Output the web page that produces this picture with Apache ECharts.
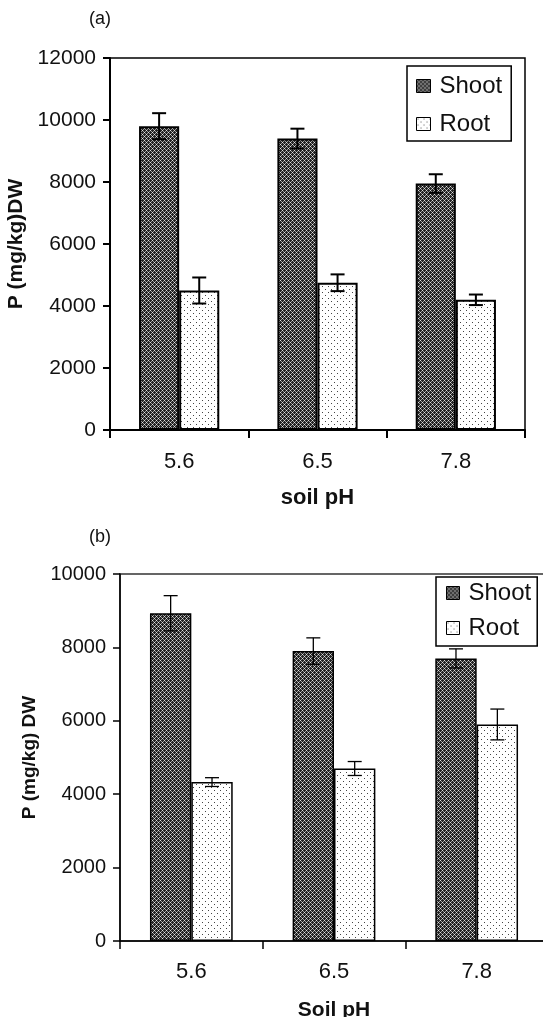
<!DOCTYPE html>
<html>
<head>
<meta charset="utf-8">
<script src="https://cdn.jsdelivr.net/npm/echarts@6/dist/echarts.min.js"></script>
<style>
html,body{margin:0;padding:0;background:#fff;}
#chart{width:543px;height:1017px;}
</style>
</head>
<body>
<div id="chart"></div>
<script>
// ---- data ----
var categories = ['5.6', '6.5', '7.8'];
var seriesNames = ['Shoot', 'Root'];
// panel (a)
var shootA = [9800, 9400, 7950];
var shootAErr = [420, 320, 300];
var rootA = [4500, 4750, 4200];
var rootAErr = [420, 270, 170];
// panel (b)
var shootB = [8930, 7900, 7700];
var shootBErr = [480, 360, 260];
var rootB = [4330, 4700, 5900];
var rootBErr = [120, 190, 420];
// axes
var yMaxA = 12000, yMaxB = 10000, yStep = 2000;

var FONT = 'Liberation Sans, Arial, sans-serif';

function makeShootPattern() {
  var c = document.createElement('canvas');
  c.width = 4; c.height = 4;
  var ctx = c.getContext('2d');
  ctx.fillStyle = '#222';
  ctx.fillRect(0, 0, 4, 4);
  for (var x = 0; x < 4; x++) {
    for (var y = 0; y < 4; y++) {
      var a = (x + y) % 4 === 0, b = ((x - y) + 4) % 4 === 0;
      if (a && b) { ctx.fillStyle = '#e0e0e0'; ctx.fillRect(x, y, 1, 1); }
      else if (a || b) { ctx.fillStyle = '#999'; ctx.fillRect(x, y, 1, 1); }
    }
  }
  return c;
}
function makeRootPattern() {
  var c = document.createElement('canvas');
  c.width = 6; c.height = 6;
  var ctx = c.getContext('2d');
  ctx.fillStyle = '#ffffff';
  ctx.fillRect(0, 0, 6, 6);
  ctx.fillStyle = '#444';
  ctx.fillRect(1, 1, 1, 1);
  ctx.fillRect(4, 4, 1, 1);
  return c;
}
var shootFill = {image: makeShootPattern(), repeat: 'repeat'};
var rootFill = {image: makeRootPattern(), repeat: 'repeat'};

var GAP = 0.42; // barCategoryGap fraction

function errData(vals, errs) {
  return vals.map(function (v, i) { return [i, v, errs[i]]; });
}
function errRender(side, lw, capHalf) {
  return function (params, api) {
    var i = api.value(0), v = api.value(1), e = api.value(2);
    var band = api.size([1, 0])[0];
    var bw = band * (1 - GAP) / 2;
    var c = api.coord([i, v]);
    var x = c[0] + side * bw / 2;
    var yT = api.coord([i, v + e])[1];
    var yB = api.coord([i, v - e])[1];
    var st = {stroke: '#000', lineWidth: lw};
    return {
      type: 'group',
      children: [
        {type: 'line', shape: {x1: x, y1: yT, x2: x, y2: yB}, style: st},
        {type: 'line', shape: {x1: x - capHalf, y1: yT, x2: x + capHalf, y2: yT}, style: st},
        {type: 'line', shape: {x1: x - capHalf, y1: yB, x2: x + capHalf, y2: yB}, style: st}
      ]
    };
  };
}

var chart = echarts.init(document.getElementById('chart'), null, {renderer: 'canvas'});

function yAxisCfg(gi, max, name, nameGap, nameSize, lw, labelSize) {
  return {
    gridIndex: gi, type: 'value', min: 0, max: max, interval: yStep,
    name: name, nameLocation: 'middle', nameRotate: 90, nameGap: nameGap,
    nameTextStyle: {fontFamily: FONT, fontWeight: 'bold', fontSize: nameSize, color: '#111'},
    axisLine: {show: true, lineStyle: {color: '#000', width: lw}},
    axisTick: {show: true, length: 7, lineStyle: {color: '#000', width: lw}},
    axisLabel: {fontFamily: FONT, fontSize: labelSize, color: '#111', margin: 14,
      formatter: function (v) { return String(v); }},
    splitLine: {show: false}
  };
}
function xAxisCfg(gi, name, nameGap, nameSize, lw, labelSize, margin) {
  return {
    gridIndex: gi, type: 'category', data: categories,
    name: name, nameLocation: 'middle', nameGap: nameGap,
    nameTextStyle: {fontFamily: FONT, fontWeight: 'bold', fontSize: nameSize, color: '#111'},
    axisLine: {show: true, lineStyle: {color: '#000', width: lw}},
    axisTick: {show: true, length: 8, lineStyle: {color: '#000', width: lw}},
    axisLabel: {fontFamily: FONT, fontSize: labelSize, color: '#111', margin: margin}
  };
}
function barSeries(name, data, fill, xi, bw) {
  return {
    name: name, type: 'bar', xAxisIndex: xi, yAxisIndex: xi,
    data: data, barGap: '0%', barCategoryGap: (GAP * 100) + '%',
    itemStyle: {color: fill, borderColor: '#000', borderWidth: bw},
    emphasis: {disabled: true}, animation: false
  };
}
function errSeries(data, errs, xi, side, lw, capHalf) {
  return {
    type: 'custom', xAxisIndex: xi, yAxisIndex: xi, z: 10,
    renderItem: errRender(side, lw, capHalf),
    data: errData(data, errs), encode: {x: 0, y: 1}, animation: false, silent: true
  };
}
function legendCfg(left, top, padding, gap, iw, ih) {
  return {
    data: seriesNames.map(function (n) { return {name: n, icon: 'rect'}; }),
    orient: 'vertical', left: left, top: top,
    padding: padding, itemGap: gap, itemWidth: iw, itemHeight: ih,
    borderColor: '#000', borderWidth: 1.5, backgroundColor: '#fff',
    itemStyle: {borderColor: '#000', borderWidth: 1},
    textStyle: {fontFamily: FONT, fontSize: 24, color: '#111', padding: [0, 0, 0, 4]},
    selectedMode: false
  };
}

var option = {
  animation: false,
  backgroundColor: '#fff',
  title: [
    {text: '(a)', left: 84, top: 5, textStyle: {fontFamily: FONT, fontSize: 18, fontWeight: 'normal', color: '#111'}},
    {text: '(b)', left: 84, top: 523, textStyle: {fontFamily: FONT, fontSize: 18, fontWeight: 'normal', color: '#111'}}
  ],
  grid: [
    {left: 110, top: 58, width: 415, height: 372, outerBoundsMode: 'none', containLabel: false,
      show: true, borderColor: '#000', borderWidth: 1.5, backgroundColor: 'transparent'},
    {left: 120, top: 574, width: 428, height: 367, outerBoundsMode: 'none', containLabel: false,
      show: true, borderColor: '#333', borderWidth: 1.5, backgroundColor: 'transparent'}
  ],
  legend: [
    legendCfg(407, 66, [8, 9, 5, 9], 14, 14, 13),
    legendCfg(436, 577, [4, 6, 6, 10], 11, 13, 13)
  ],
  xAxis: [
    xAxisCfg(0, 'soil pH', 57, 22, 2, 22, 21),
    xAxisCfg(1, 'Soil pH', 59, 21, 1.5, 22, 20)
  ],
  yAxis: [
    yAxisCfg(0, yMaxA, 'P (mg/kg)DW', 79, 21, 2, 21),
    yAxisCfg(1, yMaxB, 'P (mg/kg) DW', 71, 19, 1.5, 20)
  ],
  series: [
    barSeries('Shoot', shootA, shootFill, 0, 2),
    barSeries('Root', rootA, rootFill, 0, 2),
    errSeries(shootA, shootAErr, 0, -1, 2, 7),
    errSeries(rootA, rootAErr, 0, 1, 2, 7),
    barSeries('Shoot', shootB, shootFill, 1, 1.5),
    barSeries('Root', rootB, rootFill, 1, 1.5),
    errSeries(shootB, shootBErr, 1, -1, 1.3, 7),
    errSeries(rootB, rootBErr, 1, 1, 1.3, 7)
  ]
};
chart.setOption(option);
</script>
</body>
</html>
